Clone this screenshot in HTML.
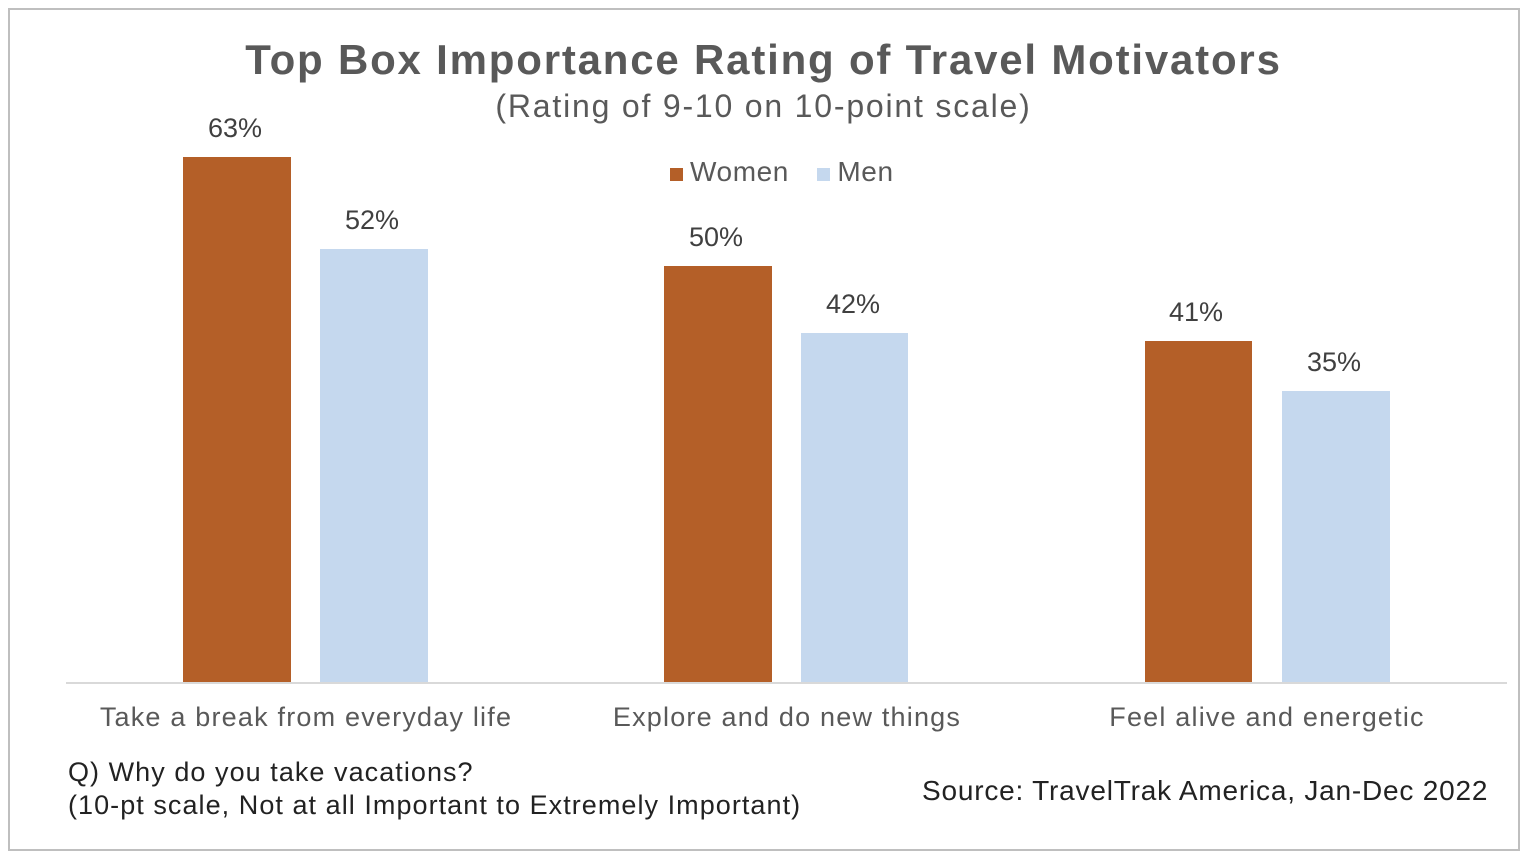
<!DOCTYPE html>
<html><head><meta charset="utf-8"><style>
html,body{margin:0;padding:0;background:#fff;}
body{width:1532px;height:854px;position:relative;overflow:hidden;font-family:"Liberation Sans",sans-serif;color:#404040;}
.frame{position:absolute;left:8px;top:8px;width:1512px;height:843px;border:2px solid #bfbfbf;box-sizing:border-box;}
.t{position:absolute;white-space:nowrap;}
.bar{position:absolute;}
.w{background:#B45F28;}
.m{background:#C5D8EE;}
.v{position:absolute;font-size:27px;color:#404040;width:120px;text-align:center;}
</style></head><body>
<div class="frame"></div>
<div class="t" style="left:0;width:1527px;text-align:center;top:36px;font-size:42px;font-weight:bold;color:#595959;letter-spacing:1.8px;">Top Box Importance Rating of Travel Motivators</div>
<div class="t" style="left:0;width:1527px;text-align:center;top:88px;font-size:32px;color:#595959;letter-spacing:1.8px;">(Rating of 9-10 on 10-point scale)</div>
<div class="t" style="left:670px;top:156px;font-size:28px;color:#595959;letter-spacing:0.6px;"><span style="display:inline-block;width:13px;height:13px;background:#B45F28;margin-right:7px;"></span>Women <span style="display:inline-block;width:13px;height:13px;background:#C5D8EE;margin:0 7px 0 20px;"></span>Men</div>

<div class="bar w" style="left:183px;top:157px;width:108px;height:525px;"></div>
<div class="bar m" style="left:320px;top:249px;width:108px;height:433px;"></div>
<div class="bar w" style="left:664px;top:266px;width:108px;height:416px;"></div>
<div class="bar m" style="left:801px;top:333px;width:107px;height:349px;"></div>
<div class="bar w" style="left:1145px;top:341px;width:107px;height:341px;"></div>
<div class="bar m" style="left:1282px;top:391px;width:108px;height:291px;"></div>

<div class="v" style="left:175px;top:113px;">63%</div>
<div class="v" style="left:312px;top:205px;">52%</div>
<div class="v" style="left:656px;top:222px;">50%</div>
<div class="v" style="left:793px;top:289px;">42%</div>
<div class="v" style="left:1136px;top:297px;">41%</div>
<div class="v" style="left:1274px;top:347px;">35%</div>

<div style="position:absolute;left:66px;top:682px;width:1441px;height:2px;background:#d9d9d9;"></div>

<div class="t" style="left:66px;width:480px;text-align:center;top:702px;font-size:27px;color:#595959;letter-spacing:1.2px;">Take a break from everyday life</div>
<div class="t" style="left:547px;width:480px;text-align:center;top:702px;font-size:27px;color:#595959;letter-spacing:1.2px;">Explore and do new things</div>
<div class="t" style="left:1027px;width:480px;text-align:center;top:702px;font-size:27px;color:#595959;letter-spacing:1.2px;">Feel alive and energetic</div>

<div class="t" style="left:68px;top:756px;font-size:27px;color:#222;line-height:33px;letter-spacing:1.05px;">Q) Why do you take vacations?<br>(10-pt scale, Not at all Important to Extremely Important)</div>
<div class="t" style="left:922px;top:775px;font-size:28px;color:#222;letter-spacing:0.8px;">Source: TravelTrak America, Jan-Dec 2022</div>
</body></html>
